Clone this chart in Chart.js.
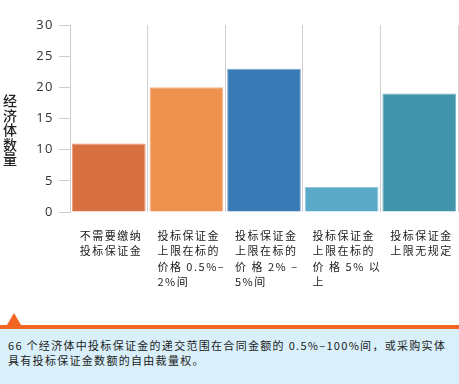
<!DOCTYPE html>
<html>
<head>
<meta charset="utf-8">
<script src="https://cdn.jsdelivr.net/npm/chart.js@4.4.0/dist/chart.umd.min.js"></script>
<style>
  body { margin: 0; background: #fff; width: 459px; height: 384px; position: relative; overflow: hidden; }
  #wrap { position: absolute; left: 0; top: 0; width: 459px; height: 300px; }
  #ytitle { position: absolute; left: 3px; top: 94px; writing-mode: vertical-rl; font: 500 14px "Noto Sans CJK SC", sans-serif; color: #222; line-height: 14px; letter-spacing: 0.5px; }
  #band { position: absolute; left: 0; top: 325px; width: 459px; height: 4px; background: #f26522; }
  #tri { position: absolute; left: 7px; top: 313px; width: 0; height: 0; border-left: 7.5px solid transparent; border-right: 7.5px solid transparent; border-bottom: 12px solid #f26522; }
  #note { position: absolute; left: 0; top: 329px; width: 459px; height: 55px; background: #d9f0fb; }
  #note p { margin: 0; position: absolute; left: 8px; top: 9px; font: 11px "Noto Sans CJK SC", sans-serif; color: #222; line-height: 15px; letter-spacing: 1.3px; white-space: nowrap; }
</style>
</head>
<body>
<div id="wrap"><canvas id="myChart" width="459" height="300"></canvas></div>
<div id="ytitle">经济体数量</div>
<div id="tri"></div>
<div id="band"></div>
<div id="note"><p>66 个经济体中投标保证金的递交范围在合同金额的 0.5%–100%间，或采购实体<br>具有投标保证金数额的自由裁量权。</p></div>
<script>
const categories = [
    ["不需要缴纳", "投标保证金"],
    ["投标保证金", "上限在标的", "价格 0.5%–", "2%间"],
    ["投标保证金", "上限在标的", "价 格 2% –", "5%间"],
    ["投标保证金", "上限在标的", "价 格 5% 以", "上"],
    ["投标保证金", "上限无规定"]
];
const counts = [11, 20, 23, 4, 19];
const yTicks = [0, 5, 10, 15, 20, 25, 30];

const barColors = ["#d97042", "#ee914f", "#3a7ab6", "#5aaac7", "#4294aa"];
const barEdges = ["#e8a07e", "#f4b585", "#7aa6cf", "#92c6db", "#7fb6c6"];

// spread the CJK tick labels a little, like the printed chart
const spacing = {
    id: "spacing",
    beforeDraw(chart) { chart.ctx.letterSpacing = "1.5px"; },
    afterDraw(chart) { chart.ctx.letterSpacing = "0px"; }
};

const ctx = document.getElementById("myChart");
new Chart(ctx, {
    type: "bar",
    data: {
        labels: categories,
        datasets: [
            {
                label: "经济体数量",
                data: counts,
                backgroundColor: barColors,
                borderColor: barEdges,
                borderWidth: 1,
                barPercentage: 0.95,
                categoryPercentage: 1
            }
        ]
    },
    options: {
        responsive: false,
        animation: false,
        layout: { padding: { top: 25, right: 1, left: 0, bottom: 0 } },
        plugins: { legend: { display: false }, tooltip: { enabled: false } },
        scales: {
            x: {
                grid: { color: "#d0d0d0", drawTicks: false, offset: true },
                border: { display: false },
                ticks: {
                    align: "start",
                    labelOffset: -29,
                    padding: 16,
                    autoSkip: false,
                    maxRotation: 0,
                    color: "#222",
                    font: { family: "'Noto Sans CJK SC'", size: 11, lineHeight: 1.4 }
                },
                afterFit(scale) {
                    scale.height = 88;
                    scale.paddingLeft = 0;
                    scale.paddingRight = 0;
                }
            },
            y: {
                min: 0,
                max: 30,
                afterBuildTicks(scale) { scale.ticks = yTicks.map(v => ({ value: v })); },
                grid: { drawOnChartArea: false, tickLength: 11, color: "#cccccc" },
                border: { color: "#cccccc" },
                ticks: {
                    padding: 5,
                    color: "#333",
                    font: { family: "'Open Sans'", size: 13 }
                },
                afterFit(scale) {
                    scale.width = 70;
                    scale.paddingTop = 0;
                    scale.paddingBottom = 0;
                }
            }
        }
    },
    plugins: [spacing]
});
</script>
</body>
</html>
